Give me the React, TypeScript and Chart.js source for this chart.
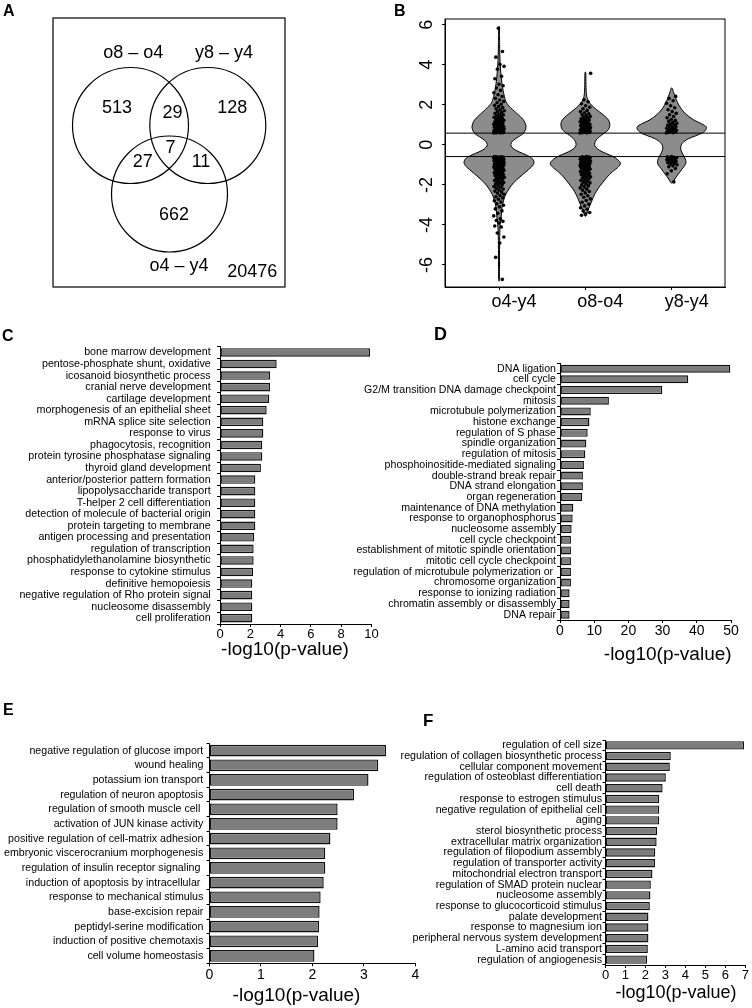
import React, { useEffect, useRef } from 'react';
import { Chart, registerables } from 'chart.js';

Chart.register(...registerables);

const FONT = "'Liberation Sans', Arial, Helvetica, sans-serif";
Chart.defaults.font.family = FONT;
Chart.defaults.color = '#000';

// ---------------- Panel A : Venn ----------------
const VENN_SET_NAMES = ['o8 – o4', 'y8 – y4', 'o4 – y4'];
// regions: only o8-o4, o8∩y8, only y8, all three, o8∩o4y4, y8∩o4y4, only o4-y4
const VENN_REGION_COUNTS = [513, 29, 128, 7, 27, 11, 662];
const VENN_OUTSIDE_COUNT = 20476;

// ---------------- Panel B : violins ----------------
const VIOLIN_GROUPS = ['o4-y4', 'o8-o4', 'y8-y4'];
const B_Y_TICKS = [-6, -4, -2, 0, 2, 4, 6];
const FC_THRESHOLD = 0.585;

const VIOLIN_LEVELS_O4Y4 = [5.82, 5.0, 4.2, 3.6, 3.0, 2.5, 2.2, 2.0, 1.7, 1.4, 1.2, 0.95, 0.75, 0.55, 0.4, 0.25, 0.1, -0.05, -0.2, -0.35, -0.5, -0.65, -0.85, -1.05, -1.3, -1.6, -1.9, -2.2, -2.5, -2.8, -3.1, -3.5, -3.8, -4.2, -5.0, -6.0, -6.72];
const VIOLIN_WIDTHS_O4Y4 = [0.005, 0.007, 0.012, 0.021, 0.036, 0.058, 0.077, 0.104, 0.173, 0.249, 0.289, 0.312, 0.306, 0.277, 0.225, 0.173, 0.142, 0.139, 0.168, 0.231, 0.312, 0.376, 0.405, 0.387, 0.324, 0.243, 0.168, 0.116, 0.075, 0.052, 0.036, 0.027, 0.02, 0.011, 0.007, 0.006, 0.005];
const VIOLIN_LEVELS_O8O4 = [3.57, 3.0, 2.5, 2.25, 2.05, 1.85, 1.65, 1.45, 1.25, 1.05, 0.85, 0.7, 0.55, 0.4, 0.25, 0.1, -0.05, -0.2, -0.35, -0.5, -0.65, -0.9, -1.1, -1.35, -1.6, -1.9, -2.2, -2.5, -2.8, -3.1, -3.35, -3.55];
const VIOLIN_WIDTHS_O8O4 = [0.005, 0.007, 0.013, 0.029, 0.058, 0.104, 0.162, 0.220, 0.266, 0.283, 0.277, 0.254, 0.208, 0.162, 0.127, 0.110, 0.110, 0.139, 0.197, 0.277, 0.347, 0.405, 0.382, 0.312, 0.254, 0.197, 0.145, 0.104, 0.075, 0.046, 0.023, 0.006];
const VIOLIN_LEVELS_Y8Y4 = [2.82, 2.6, 2.4, 2.1, 1.8, 1.5, 1.25, 1.05, 0.9, 0.75, 0.6, 0.45, 0.3, 0.1, -0.1, -0.3, -0.5, -0.7, -0.85, -1.0, -1.2, -1.4, -1.6, -1.8, -1.9];
const VIOLIN_WIDTHS_Y8Y4 = [0.006, 0.023, 0.040, 0.069, 0.110, 0.173, 0.254, 0.347, 0.399, 0.393, 0.358, 0.277, 0.191, 0.127, 0.104, 0.110, 0.133, 0.156, 0.165, 0.156, 0.121, 0.087, 0.052, 0.023, 0.006];

const POINTS_O4Y4 = [
  0.59, 0.6, 0.6, 0.61, 0.62, 0.63, 0.63, 0.64, 0.65, 0.66, 0.67, 0.68, 0.69, 0.7, 0.71, 0.72, 0.74, 0.75, 0.76, 0.78, 0.79, 0.8, 0.82, 0.83, 0.85, 0.86, 0.88, 0.89, 0.91, 0.93, 0.95, 0.97, 0.99, 1.01, 1.03, 1.05, 1.08, 1.1, 1.12, 1.15, 1.17, 1.2, 1.23, 1.26, 1.29, 1.32, 1.35, 1.38, 1.42, 1.45, 1.49, 1.53, 1.57, 1.61, 1.66, 1.7, 1.75, 1.8, 1.86, 1.91, 1.97, 2.03, 2.1, 2.17, 2.24, 2.32, 2.41, 2.5, 2.6, 2.72, 2.84, 2.95, 3.02, 3.3, 3.42, 3.78, 3.92, 4.02, 4.38, 4.66, 5.82,
  -0.59, -0.6, -0.6, -0.61, -0.62, -0.62, -0.63, -0.64, -0.65, -0.66, -0.67, -0.68, -0.69, -0.7, -0.71, -0.72, -0.73, -0.74, -0.75, -0.77, -0.78, -0.79, -0.8, -0.82, -0.83, -0.84, -0.86, -0.87, -0.88, -0.9, -0.91, -0.93, -0.94, -0.96, -0.97, -0.99, -1.0, -1.02, -1.04, -1.05, -1.07, -1.09, -1.11, -1.13, -1.15, -1.17, -1.19, -1.21, -1.23, -1.25, -1.28, -1.3, -1.32, -1.35, -1.37, -1.4, -1.42, -1.45, -1.48, -1.5, -1.53, -1.56, -1.59, -1.62, -1.65, -1.68, -1.71, -1.74, -1.78, -1.81, -1.85, -1.88, -1.92, -1.96, -2.0, -2.04, -2.08, -2.12, -2.17, -2.21, -2.26, -2.31, -2.36, -2.41, -2.47, -2.53, -2.59, -2.65, -2.72, -2.79, -2.86, -2.94, -3.02, -3.1, -3.2, -3.3, -3.42, -3.55, -3.7, -3.78, -3.82, -3.9, -4.05, -4.1, -4.4, -4.6, -4.9, -5.62, -6.72,
];
const POINTS_O8O4 = [
  0.59, 0.6, 0.61, 0.62, 0.63, 0.64, 0.65, 0.66, 0.67, 0.68, 0.7, 0.71, 0.72, 0.74, 0.75, 0.77, 0.78, 0.8, 0.81, 0.83, 0.85, 0.86, 0.88, 0.9, 0.92, 0.94, 0.96, 0.98, 1.0, 1.02, 1.05, 1.07, 1.1, 1.12, 1.15, 1.18, 1.21, 1.24, 1.27, 1.3, 1.34, 1.38, 1.42, 1.46, 1.5, 1.55, 1.6, 1.66, 1.72, 1.8, 1.88, 1.95, 2.05, 2.15, 2.25, 3.57,
  -0.59, -0.6, -0.61, -0.62, -0.63, -0.64, -0.65, -0.66, -0.67, -0.68, -0.69, -0.7, -0.72, -0.73, -0.74, -0.75, -0.77, -0.78, -0.79, -0.81, -0.82, -0.84, -0.85, -0.87, -0.88, -0.9, -0.91, -0.93, -0.95, -0.96, -0.98, -1.0, -1.02, -1.04, -1.06, -1.08, -1.1, -1.12, -1.14, -1.16, -1.19, -1.21, -1.24, -1.26, -1.29, -1.31, -1.34, -1.37, -1.4, -1.43, -1.46, -1.49, -1.52, -1.56, -1.59, -1.63, -1.66, -1.7, -1.74, -1.78, -1.82, -1.86, -1.9, -1.95, -2.0, -2.05, -2.1, -2.15, -2.21, -2.27, -2.33, -2.4, -2.47, -2.54, -2.62, -2.7, -2.78, -2.87, -2.96, -3.05, -3.14, -3.22, -3.3, -3.38, -3.45, -3.52,
];
const POINTS_Y8Y4 = [
  0.59, 0.61, 0.62, 0.64, 0.65, 0.67, 0.69, 0.7, 0.72, 0.74, 0.76, 0.78, 0.8, 0.83, 0.85, 0.88, 0.91, 0.94, 0.97, 1.0, 1.04, 1.08, 1.12, 1.17, 1.22, 1.28, 1.35, 1.42, 1.5, 1.58, 1.66, 1.75, 1.85, 1.95, 2.08, 2.2, 2.32, 2.42,
  -0.59, -0.6, -0.62, -0.63, -0.65, -0.67, -0.69, -0.71, -0.73, -0.75, -0.78, -0.8, -0.83, -0.86, -0.89, -0.92, -0.96, -1.0, -1.05, -1.1, -1.18, -1.3, -1.45, -1.85,
];

// ---------------- Panels C–F : GO enrichment bars ----------------
const C_TERMS = ['bone marrow development', 'pentose-phosphate shunt, oxidative', 'icosanoid biosynthetic process', 'cranial nerve development', 'cartilage development', 'morphogenesis of an epithelial sheet', 'mRNA splice site selection', 'response to virus', 'phagocytosis, recognition', 'protein tyrosine phosphatase signaling', 'thyroid gland development', 'anterior/posterior pattern formation', 'lipopolysaccharide transport', 'T-helper 2 cell differentiation', 'detection of molecule of bacterial origin', 'protein targeting to membrane', 'antigen processing and presentation', 'regulation of transcription', 'phosphatidylethanolamine biosynthetic', 'response to cytokine stimulus', 'definitive hemopoiesis', 'negative regulation of Rho protein signal', 'nucleosome disassembly', 'cell proliferation'];
const C_VALUES = [9.9, 3.74, 3.3, 3.3, 3.25, 3.08, 2.86, 2.86, 2.79, 2.79, 2.7, 2.33, 2.33, 2.33, 2.33, 2.33, 2.26, 2.22, 2.22, 2.18, 2.13, 2.13, 2.13, 2.13];

const D_TERMS = ['DNA ligation', 'cell cycle', 'G2/M transition DNA damage checkpoint', 'mitosis', 'microtubule polymerization', 'histone exchange', 'regulation of S phase', 'spindle organization', 'regulation of mitosis', 'phosphoinositide-mediated signaling', 'double-strand break repair', 'DNA strand elongation', 'organ regeneration', 'maintenance of DNA methylation', 'response to organophosphorus', 'nucleosome assembly', 'cell cycle checkpoint', 'establishment of mitotic spindle orientation', 'mitotic cell cycle checkpoint', 'regulation of microtubule polymerization or ', 'chromosome organization', 'response to ionizing radiation', 'chromatin assembly or disassembly', 'DNA repair'];
const D_VALUES = [49.8, 37.5, 29.9, 14.3, 9.0, 8.6, 8.1, 7.7, 7.4, 7.0, 6.7, 6.7, 6.5, 3.9, 3.7, 3.4, 3.2, 3.2, 3.2, 3.2, 3.2, 2.8, 2.8, 2.8];

const E_TERMS = ['negative regulation of glucose import', 'wound healing', 'potassium ion transport', 'regulation of neuron apoptosis', 'regulation of smooth muscle cell ', 'activation of JUN kinase activity', 'positive regulation of cell-matrix adhesion', 'embryonic viscerocranium morphogenesis', 'regulation of insulin receptor signaling ', 'induction of apoptosis by intracellular ', 'response to mechanical stimulus', 'base-excision repair', 'peptidyl-serine modification', 'induction of positive chemotaxis', 'cell volume homeostasis'];
const E_VALUES = [3.43, 3.28, 3.09, 2.81, 2.49, 2.49, 2.35, 2.25, 2.25, 2.22, 2.16, 2.14, 2.13, 2.11, 2.04];

const F_TERMS = ['regulation of cell size', 'regulation of collagen biosynthetic process', 'cellular component movement', 'regulation of osteoblast differentiation', 'cell death', 'response to estrogen stimulus', 'negative regulation of epithelial cell', 'aging', 'sterol biosynthetic process', 'extracellular matrix organization', 'regulation of filopodium assembly', 'regulation of transporter activity', 'mitochondrial electron transport', 'regulation of SMAD protein nuclear', 'nucleosome assembly', 'response to glucocorticoid stimulus', 'palate development', 'response to magnesium ion', 'peripheral nervous system development', 'L-amino acid transport', 'regulation of angiogenesis'];
const F_VALUES = [6.94, 3.27, 3.22, 3.02, 2.86, 2.69, 2.69, 2.69, 2.58, 2.56, 2.49, 2.48, 2.35, 2.27, 2.25, 2.22, 2.15, 2.15, 2.15, 2.12, 2.08];

const AXIS_TITLE = '-log10(p-value)';

// ---------------- shared plugin: panel letters + axis titles ----------------
const extrasPlugin = {
  id: 'extras',
  afterDraw(chart: any, _args: any, opts: any) {
    const ctx = chart.ctx;
    ctx.save();
    ctx.fillStyle = '#000';
    if (opts.letter) {
      ctx.font = `bold ${opts.letter.size}px ${FONT}`;
      ctx.textAlign = 'left';
      ctx.textBaseline = 'alphabetic';
      ctx.fillText(opts.letter.text, opts.letter.x, opts.letter.y);
    }
    if (opts.title) {
      ctx.font = `${opts.title.size}px ${FONT}`;
      ctx.textAlign = 'center';
      ctx.textBaseline = 'middle';
      ctx.fillText(opts.title.text, opts.title.x, opts.title.y);
    }
    ctx.restore();
  },
};

// ---------------- Panel A ----------------
const VENN_CIRCLES = [
  { cx: 77.5, cy: 161.5, r: 58 },
  { cx: 154.8, cy: 161.5, r: 58 },
  { cx: 116.5, cy: 93, r: 58 },
];
const VENN_NAME_POS = [
  [80.3, 233.7],
  [171, 233.7],
  [126, 21.3],
];
const VENN_COUNT_POS = [
  [64, 178.7],
  [119.5, 173.5],
  [179.3, 178.7],
  [117.5, 138.7],
  [89.8, 125],
  [148, 125],
  [121, 72],
];
const VENN_OUTSIDE_POS = [199.3, 14.5];

const vennPlugin = {
  id: 'venn',
  afterDraw(chart: any) {
    const { ctx, chartArea: a, scales } = chart;
    const x = scales.x;
    const y = scales.y;
    ctx.save();
    ctx.strokeStyle = '#000';
    ctx.lineWidth = 1.2;
    ctx.strokeRect(a.left, a.top, a.right - a.left, a.bottom - a.top);
    VENN_CIRCLES.forEach((c) => {
      const px = x.getPixelForValue(c.cx);
      const py = y.getPixelForValue(c.cy);
      const rp = x.getPixelForValue(c.cx + c.r) - px;
      ctx.beginPath();
      ctx.arc(px, py, rp, 0, Math.PI * 2);
      ctx.stroke();
    });
    ctx.fillStyle = '#000';
    ctx.font = `18px ${FONT}`;
    ctx.textAlign = 'center';
    ctx.textBaseline = 'middle';
    VENN_SET_NAMES.forEach((n, i) => {
      ctx.fillText(n, x.getPixelForValue(VENN_NAME_POS[i][0]), y.getPixelForValue(VENN_NAME_POS[i][1]));
    });
    VENN_REGION_COUNTS.forEach((n, i) => {
      ctx.fillText(String(n), x.getPixelForValue(VENN_COUNT_POS[i][0]), y.getPixelForValue(VENN_COUNT_POS[i][1]));
    });
    ctx.fillText(String(VENN_OUTSIDE_COUNT), x.getPixelForValue(VENN_OUTSIDE_POS[0]), y.getPixelForValue(VENN_OUTSIDE_POS[1]));
    ctx.restore();
  },
};

function VennPanel() {
  const ref = useRef<HTMLCanvasElement | null>(null);
  useEffect(() => {
    const chart = new Chart(ref.current as HTMLCanvasElement, {
      type: 'scatter',
      data: { datasets: [] },
      options: {
        responsive: false,
        animation: false,
        devicePixelRatio: 1,
        layout: { padding: { left: 53, top: 18, right: 91, bottom: 13 } },
        scales: {
          x: { display: false, min: 0, max: 232 },
          y: { display: false, min: 0, max: 269 },
        },
        plugins: {
          legend: { display: false },
          tooltip: { enabled: false },
          extras: { letter: { text: 'A', x: 3, y: 15.7, size: 16 } },
        } as any,
      },
      plugins: [vennPlugin, extrasPlugin],
    } as any);
    return () => chart.destroy();
  }, []);
  return <canvas ref={ref} width={376} height={300} style={{ position: 'absolute', left: 0, top: 0 }} />;
}

// ---------------- Panel B ----------------
const B_X_MIN = 0.3746;
const B_X_MAX = 3.617;
const JITTER_HALF = 0.062;

const VIOLINS = [
  { levels: VIOLIN_LEVELS_O4Y4, widths: VIOLIN_WIDTHS_O4Y4 },
  { levels: VIOLIN_LEVELS_O8O4, widths: VIOLIN_WIDTHS_O8O4 },
  { levels: VIOLIN_LEVELS_Y8Y4, widths: VIOLIN_WIDTHS_Y8Y4 },
];
const VIOLIN_POINTS = [POINTS_O4Y4, POINTS_O8O4, POINTS_Y8Y4];

function smoothClosedPath(ctx: CanvasRenderingContext2D, pts: number[][]) {
  const n = pts.length;
  ctx.moveTo(pts[0][0], pts[0][1]);
  for (let i = 0; i < n; i++) {
    const p0 = pts[(i - 1 + n) % n];
    const p1 = pts[i];
    const p2 = pts[(i + 1) % n];
    const p3 = pts[(i + 2) % n];
    ctx.bezierCurveTo(
      p1[0] + (p2[0] - p0[0]) / 6,
      p1[1] + (p2[1] - p0[1]) / 6,
      p2[0] - (p3[0] - p1[0]) / 6,
      p2[1] - (p3[1] - p1[1]) / 6,
      p2[0],
      p2[1],
    );
  }
  ctx.closePath();
}

const violinPlugin = {
  id: 'violin',
  beforeDatasetsDraw(chart: any) {
    const { ctx, scales } = chart;
    const x = scales.x;
    const y = scales.y;
    ctx.save();
    VIOLINS.forEach((v, gi) => {
      const c = gi + 1;
      const right = v.levels.map((lv, k) => [x.getPixelForValue(c + v.widths[k]), y.getPixelForValue(lv)]);
      const left = v.levels.map((lv, k) => [x.getPixelForValue(c - v.widths[k]), y.getPixelForValue(lv)]).reverse();
      const pts = right.concat(left);
      ctx.beginPath();
      smoothClosedPath(ctx, pts);
      ctx.fillStyle = '#8c8c8c';
      ctx.fill();
      ctx.strokeStyle = '#000';
      ctx.lineWidth = 1;
      ctx.stroke();
    });
    ctx.restore();
  },
  afterDraw(chart: any) {
    const { ctx, chartArea: a, scales } = chart;
    ctx.save();
    ctx.strokeStyle = '#000';
    ctx.lineWidth = 1;
    ctx.strokeRect(a.left, a.top, a.right - a.left, a.bottom - a.top);
    ctx.fillStyle = '#000';
    ctx.font = `18px ${FONT}`;
    ctx.textAlign = 'center';
    ctx.textBaseline = 'middle';
    B_Y_TICKS.forEach((t) => {
      const py = scales.y.getPixelForValue(t);
      ctx.save();
      ctx.translate(51, py);
      ctx.rotate(-Math.PI / 2);
      ctx.fillText(String(t), 0, 0);
      ctx.restore();
    });
    ctx.restore();
  },
};

function ViolinPanel() {
  const ref = useRef<HTMLCanvasElement | null>(null);
  useEffect(() => {
    const pointSets = VIOLIN_POINTS.map((vals, gi) => ({
      data: vals.map((val, i) => ({ x: gi + 1 + (((i * 0.6180339887) % 1) - 0.5) * 2 * JITTER_HALF, y: val })),
      pointRadius: 1.8,
      pointBackgroundColor: '#000',
      pointBorderWidth: 0,
      showLine: false,
    }));
    const thresholdSets = [FC_THRESHOLD, -FC_THRESHOLD].map((t) => ({
      data: [
        { x: B_X_MIN, y: t },
        { x: B_X_MAX, y: t },
      ],
      showLine: true,
      borderColor: '#000',
      borderWidth: 1,
      pointRadius: 0,
    }));
    const chart = new Chart(ref.current as HTMLCanvasElement, {
      type: 'scatter',
      data: { datasets: [...thresholdSets, ...pointSets] },
      options: {
        responsive: false,
        animation: false,
        devicePixelRatio: 1,
        layout: { padding: { left: 0, top: 19, right: 27, bottom: 0 } },
        scales: {
          x: {
            type: 'linear',
            min: B_X_MIN,
            max: B_X_MAX,
            afterBuildTicks: (s: any) => {
              s.ticks = [1, 2, 3].map((v) => ({ value: v }));
            },
            afterFit: (s: any) => {
              s.height = 33;
            },
            ticks: {
              callback: (_v: any, i: number) => VIOLIN_GROUPS[i],
              font: { size: 18 },
              color: '#000',
              padding: 1,
              labelOffset: 15,
              maxRotation: 0,
              autoSkip: false,
            },
            grid: { drawOnChartArea: false, tickLength: 3, color: '#000' },
            border: { color: '#000' },
          },
          y: {
            type: 'linear',
            min: -7.1,
            max: 6.285,
            afterBuildTicks: (s: any) => {
              s.ticks = B_Y_TICKS.map((v) => ({ value: v }));
            },
            afterFit: (s: any) => {
              s.width = 69;
            },
            ticks: { display: false },
            grid: { drawOnChartArea: false, tickLength: 3, color: '#000' },
            border: { color: '#000' },
          },
        },
        plugins: {
          legend: { display: false },
          tooltip: { enabled: false },
          extras: { letter: { text: 'B', x: 18, y: 15.7, size: 16 } },
        } as any,
      },
      plugins: [violinPlugin, extrasPlugin],
    } as any);
    return () => chart.destroy();
  }, []);
  return <canvas ref={ref} width={376} height={320} style={{ position: 'absolute', left: 376, top: 0 }} />;
}

// ---------------- Bar panels ----------------
type BarCfg = {
  terms: string[];
  values: number[];
  max: number;
  step: number;
  left: number;
  top: number;
  w: number;
  h: number;
  areaLeft: number;
  areaTop: number;
  areaBottom: number;
  padRight: number;
  labelSize: number;
  labelPad: number;
  tickSize: number;
  barPct: number;
  letter: { text: string; x: number; y: number; size: number };
  title: { x: number; y: number; size: number };
};

function BarPanel({ cfg }: { cfg: BarCfg }) {
  const ref = useRef<HTMLCanvasElement | null>(null);
  useEffect(() => {
    const chart = new Chart(ref.current as HTMLCanvasElement, {
      type: 'bar',
      data: {
        labels: cfg.terms,
        datasets: [
          {
            data: cfg.values,
            backgroundColor: '#7c7c7c',
            borderColor: '#111',
            borderWidth: 1.4,
            borderSkipped: false,
            barPercentage: cfg.barPct,
            categoryPercentage: 1,
          },
        ],
      },
      options: {
        indexAxis: 'y',
        responsive: false,
        animation: false,
        devicePixelRatio: 1,
        layout: { padding: { left: 0, top: cfg.areaTop, right: cfg.padRight, bottom: 0 } },
        scales: {
          y: {
            type: 'category',
            afterFit: (s: any) => {
              s.width = cfg.areaLeft;
            },
            ticks: {
              autoSkip: false,
              font: { size: cfg.labelSize, lineHeight: 1 },
              color: '#000',
              padding: cfg.labelPad,
            },
            grid: { drawOnChartArea: false, tickLength: 3, color: '#000', offset: true },
            border: { color: '#000', width: 1 },
          },
          x: {
            type: 'linear',
            min: 0,
            max: cfg.max,
            afterFit: (s: any) => {
              s.height = cfg.h - cfg.areaBottom;
            },
            ticks: { stepSize: cfg.step, font: { size: cfg.tickSize }, color: '#000', padding: 0, maxRotation: 0 },
            grid: { drawOnChartArea: false, tickLength: 3, color: '#000' },
            border: { color: '#000', width: 1 },
          },
        },
        plugins: {
          legend: { display: false },
          tooltip: { enabled: false },
          extras: {
            letter: cfg.letter,
            title: { text: AXIS_TITLE, x: cfg.title.x, y: cfg.title.y, size: cfg.title.size },
          },
        } as any,
      },
      plugins: [extrasPlugin],
    } as any);
    return () => chart.destroy();
  }, []);
  return <canvas ref={ref} width={cfg.w} height={cfg.h} style={{ position: 'absolute', left: cfg.left, top: cfg.top }} />;
}

const PANEL_C: BarCfg = {
  terms: C_TERMS, values: C_VALUES, max: 10, step: 2,
  left: 0, top: 300, w: 385, h: 370,
  areaLeft: 220, areaTop: 46.7, areaBottom: 324, padRight: 13.5,
  labelSize: 10.7, labelPad: 6.3, tickSize: 13, barPct: 0.74,
  letter: { text: 'C', x: 2, y: 40.7, size: 16 },
  title: { x: 285, y: 350, size: 19 },
};
const PANEL_D: BarCfg = {
  terms: D_TERMS, values: D_VALUES, max: 50, step: 10,
  left: 340, top: 300, w: 412, h: 375,
  areaLeft: 220, areaTop: 63.3, areaBottom: 320, padRight: 21,
  labelSize: 10.6, labelPad: 1, tickSize: 14, barPct: 0.75,
  letter: { text: 'D', x: 94, y: 40, size: 18 },
  title: { x: 327.7, y: 354.3, size: 19 },
};
const PANEL_E: BarCfg = {
  terms: E_TERMS, values: E_VALUES, max: 4, step: 1,
  left: 0, top: 660, w: 425, h: 348,
  areaLeft: 209.5, areaTop: 83.3, areaBottom: 303.3, padRight: 9.7,
  labelSize: 10.65, labelPad: 3.2, tickSize: 14, barPct: 0.8,
  letter: { text: 'E', x: 3, y: 55, size: 16 },
  title: { x: 296.5, y: 336, size: 19 },
};
const PANEL_F: BarCfg = {
  terms: F_TERMS, values: F_VALUES, max: 7, step: 1,
  left: 376, top: 660, w: 376, h: 348,
  areaLeft: 229.5, areaTop: 80, areaBottom: 305, padRight: 6.7,
  labelSize: 10.7, labelPad: 0.5, tickSize: 13, barPct: 0.78,
  letter: { text: 'F', x: 47, y: 65.7, size: 17 },
  title: { x: 300, y: 333.5, size: 18 },
};

export default function App() {
  return (
    <div style={{ position: 'absolute', left: 0, top: 0, width: 752, height: 1008, background: '#fff', overflow: 'hidden' }}>
      <VennPanel />
      <ViolinPanel />
      <BarPanel cfg={PANEL_C} />
      <BarPanel cfg={PANEL_D} />
      <BarPanel cfg={PANEL_E} />
      <BarPanel cfg={PANEL_F} />
    </div>
  );
}
